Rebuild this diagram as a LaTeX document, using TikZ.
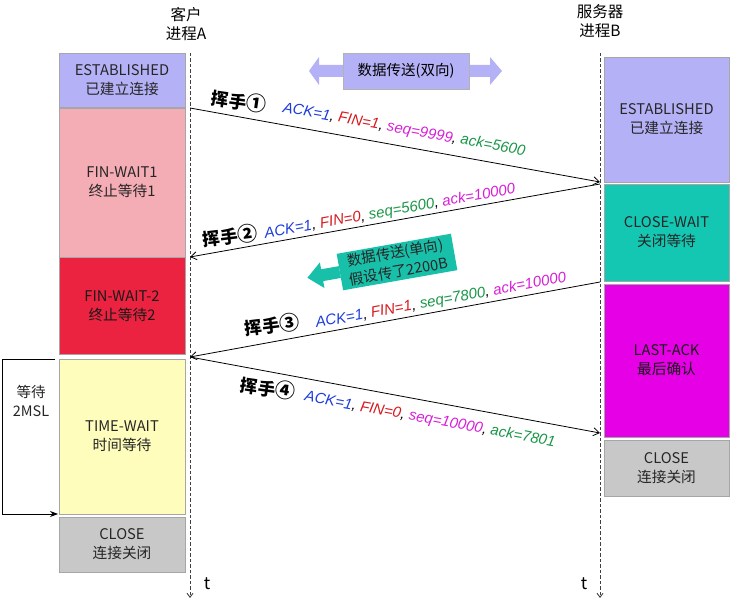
\documentclass[tikz,border=0pt]{standalone}
\usepackage{fontspec}
\setmainfont{Noto Sans CJK SC}
\newfontfamily\lat{Liberation Sans}
\usetikzlibrary{arrows.meta}
\definecolor{estab}{RGB}{180,177,246}
\definecolor{fw1}{RGB}{245,173,181}
\definecolor{fw2}{RGB}{236,35,64}
\definecolor{tw}{RGB}{254,253,187}
\definecolor{closec}{RGB}{200,200,200}
\definecolor{cw}{RGB}{19,199,178}
\definecolor{la}{RGB}{230,0,230}
\definecolor{tealar}{RGB}{24,192,170}
\definecolor{ackc}{RGB}{28,60,220}
\definecolor{finc}{RGB}{215,25,30}
\definecolor{magc}{RGB}{215,30,215}
\definecolor{grnc}{RGB}{25,150,70}
\newcommand{\circnum}[1]{{\bfseries\fontsize{20}{20}\selectfont #1}}
\tikzset{
  stbox/.style={rectangle, draw=black!35, line width=0.6pt, inner sep=0pt, align=center,
    minimum width=126pt, font=\fontsize{14.7}{19}\selectfont, text=black!85},
  life/.style={dashed, dash pattern=on 3.5pt off 2pt, line width=0.9pt, black!75,
    -{Straight Barb[length=4pt,width=6pt]}},
  msg/.style={line width=0.8pt, -{Straight Barb[length=6pt,width=8pt]}},
  hdr/.style={font=\fontsize{15.5}{19.5}\selectfont, align=center, inner sep=0pt},
  hs/.style={font=\bfseries\fontsize{17.5}{20}\selectfont, inner sep=0pt},
  lbl/.style={font=\lat\itshape\fontsize{15}{17}\selectfont, inner sep=0pt},
}
\begin{document}
\begin{tikzpicture}[x=1pt,y=-1pt]
\useasboundingbox (0,0) rectangle (732,601);
% headers
\node[hdr] (hA) at (186,24) {客户\\进程A};
\node[hdr] (hB) at (600,21) {服务器\\进程B};
% left boxes
\node[stbox, fill=estab, minimum height=54pt] (aest) at (122,80) {ESTABLISHED\\已建立连接};
\node[stbox, fill=fw1, minimum height=149pt] (afw1) at (122,182.5) {FIN-WAIT1\\终止等待1};
\node[stbox, fill=fw2, minimum height=97pt, text=black!90] (afw2) at (122,306) {FIN-WAIT-2\\终止等待2};
\node[stbox, fill=tw, minimum height=155pt] (atw) at (122,436.5) {TIME-WAIT\\时间等待};
\node[stbox, fill=closec, minimum height=55pt] (acl) at (122,544.5) {CLOSE\\连接关闭};
% right boxes
\node[stbox, fill=estab, minimum height=125pt, minimum width=125pt] (best) at (666.5,119.5) {ESTABLISHED\\已建立连接};
\node[stbox, fill=cw, minimum height=97pt, minimum width=125pt] (bcw) at (666.5,232.5) {CLOSE-WAIT\\关闭等待};
\node[stbox, fill=la, minimum height=153pt, minimum width=125pt, text=black!90] (bla) at (666.5,360.5) {LAST-ACK\\最后确认};
\node[stbox, fill=closec, minimum height=56pt, minimum width=125pt] (bcl) at (666.5,468) {CLOSE\\连接关闭};
% lifelines
\coordinate (At) at (190,53); \coordinate (Ab) at (190,598);
\coordinate (Bt) at (600,53); \coordinate (Bb) at (600,598);
\draw[life] (At) -- (Ab);
\draw[life] (Bt) -- (Bb);
\node[font=\fontsize{17}{20}\selectfont] (tA) at (207,584) {t};
\node[font=\fontsize{17}{20}\selectfont] (tB) at (584,584) {t};
% double arrow
\fill[estab] (309,71) -- (319,57) -- (319,65) -- (343,65) -- (343,77) -- (319,77) -- (319,85) -- cycle;
\fill[estab] (502,71) -- (490,57) -- (490,65) -- (469,65) -- (469,77) -- (490,77) -- (490,85) -- cycle;
\node[rectangle, fill=estab, draw=black!30, line width=0.5pt, minimum width=126pt, minimum height=36pt, inner sep=0pt,
  font=\fontsize{14.5}{17}\selectfont] (dbl) at (406,71) {数据传送(双向)};
% teal arrow
\begin{scope}[shift={(397,262)}, rotate=10]
\fill[tealar] (-58,-18.5) rectangle (58,18.5);
\fill[tealar] (-91,0) -- (-76,-13) -- (-76,-6) -- (-58,-6) -- (-58,6) -- (-76,6) -- (-76,13) -- cycle;
\node[rotate=10, align=center, font=\fontsize{14.5}{19}\selectfont, text=black!85, inner sep=0pt] (uni) at (0,0) {数据传送(单向)\\假设传了2200B};
\end{scope}
% messages
\coordinate (m1s) at (190,108); \coordinate (m1e) at (600,182);
\coordinate (m2s) at (600,184); \coordinate (m2e) at (190,257);
\coordinate (m3s) at (600,282); \coordinate (m3e) at (190,357);
\coordinate (m4s) at (190,357); \coordinate (m4e) at (600,433);
\draw[msg] (m1s) -- (m1e);
\draw[msg] (m2s) -- (m2e);
\draw[msg] (m3s) -- (m3e);
\draw[msg] (m4s) -- (m4e);
% labels
\node[hs, rotate=-8] (h1) at (239,101) {挥手\circnum{①}};
\node[lbl, rotate=-10.2] (l1) at (404,130) {{\color{ackc}ACK=1}, {\color{finc}FIN=1}, {\color{magc}seq=9999}, {\color{grnc}ack=5600}};
\node[hs, rotate=7] (h2) at (230,236) {挥手\circnum{②}};
\node[lbl, rotate=10.1] (l2) at (390,212) {{\color{ackc}ACK=1}, {\color{finc}FIN=0}, {\color{grnc}seq=5600}, {\color{magc}ack=10000}};
\node[hs, rotate=7] (h3) at (272,325) {挥手\circnum{③}};
\node[lbl, rotate=10.4] (l3) at (441,301) {{\color{ackc}ACK=1}, {\color{finc}FIN=1}, {\color{grnc}seq=7800}, {\color{magc}ack=10000}};
\node[hs, rotate=-8] (h4) at (268,388) {挥手\circnum{④}};
\node[lbl, rotate=-10.4] (l4) at (430,420) {{\color{ackc}ACK=1}, {\color{finc}FIN=0}, {\color{magc}seq=10000}, {\color{grnc}ack=7801}};
% 2MSL
\coordinate (w1) at (55,359); \coordinate (w2) at (58,514);
\draw[line width=0.8pt, -{Stealth[length=8pt,width=6pt]}] (w1) -- (2,359) -- (2,514) -- (w2);
\node[align=center, font=\fontsize{14.5}{19}\selectfont, text=black!85] (msl) at (31,401) {等待\\2MSL};
\end{tikzpicture}
\end{document}
